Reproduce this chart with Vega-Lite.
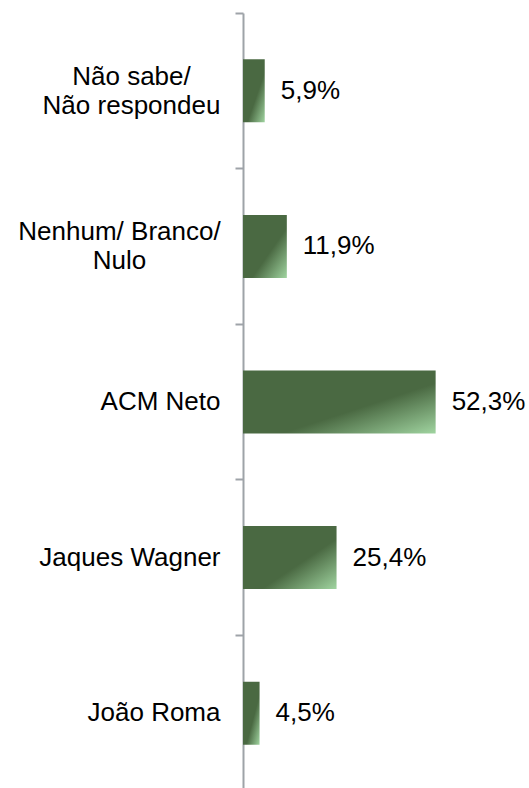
{
  "$schema": "https://vega.github.io/schema/vega-lite/v6.json",
  "width": 221,
  "height": 778,
  "autosize": "none",
  "padding": {"left": 243, "top": 13, "right": 65, "bottom": 0},
  "background": "white",
  "config": {"view": {"stroke": null}, "font": "Liberation Sans"},
  "data": {
    "values": [
      {"cat": "Não sabe/ Não respondeu", "pct": 5.9},
      {"cat": "Nenhum/ Branco/ Nulo", "pct": 11.9},
      {"cat": "ACM Neto", "pct": 52.3},
      {"cat": "Jaques Wagner", "pct": 25.4},
      {"cat": "João Roma", "pct": 4.5}
    ]
  },
  "transform": [
    {"calculate": "replace(format(datum.pct, '.1f'), '.', ',') + '%'", "as": "label"}
  ],
  "encoding": {
    "y": {
      "field": "cat",
      "type": "nominal",
      "sort": null,
      "scale": {"paddingInner": 0, "paddingOuter": 0},
      "axis": {
        "title": null,
        "bandPosition": 0,
        "domainColor": "#9ea3a8",
        "domainWidth": 2,
        "tickColor": "#9ea3a8",
        "tickWidth": 2,
        "tickSize": 8,
        "labelPadding": {"expr": "datum.label == 'Não sabe/ Não respondeu' ? 104 : datum.label == 'Nenhum/ Branco/ Nulo' ? 116 : 15"},
        "labelAlign": {"expr": "indexof(datum.label, '/') >= 0 ? 'center' : 'right'"},
        "labelOffset": {"expr": "indexof(datum.label, '/') >= 0 ? -14 : 0"},
        "labelFontSize": 26,
        "labelColor": "black",
        "labelBaseline": "middle",
        "labelLineHeight": 29,
        "labelLimit": 300,
        "labelExpr": "datum.label == 'Não sabe/ Não respondeu' ? ['Não sabe/', 'Não respondeu'] : datum.label == 'Nenhum/ Branco/ Nulo' ? ['Nenhum/ Branco/', 'Nulo'] : datum.label"
      }
    },
    "x": {
      "field": "pct",
      "type": "quantitative",
      "scale": {"domain": [0, 60]},
      "axis": null
    }
  },
  "layer": [
    {
      "mark": {
        "type": "bar",
        "height": {"band": 0.405},
        "color": {
          "gradient": "linear",
          "x1": 0, "y1": 0, "x2": 1, "y2": 1,
          "stops": [
            {"offset": 0, "color": "#4a6942"},
            {"offset": 0.6, "color": "#4a6942"},
            {"offset": 1, "color": "#a0d4a0"}
          ]
        }
      }
    },
    {
      "mark": {
        "type": "text",
        "align": "left",
        "baseline": "middle",
        "dx": 16,
        "fontSize": 26,
        "color": "black"
      },
      "encoding": {"text": {"field": "label"}}
    }
  ]
}
